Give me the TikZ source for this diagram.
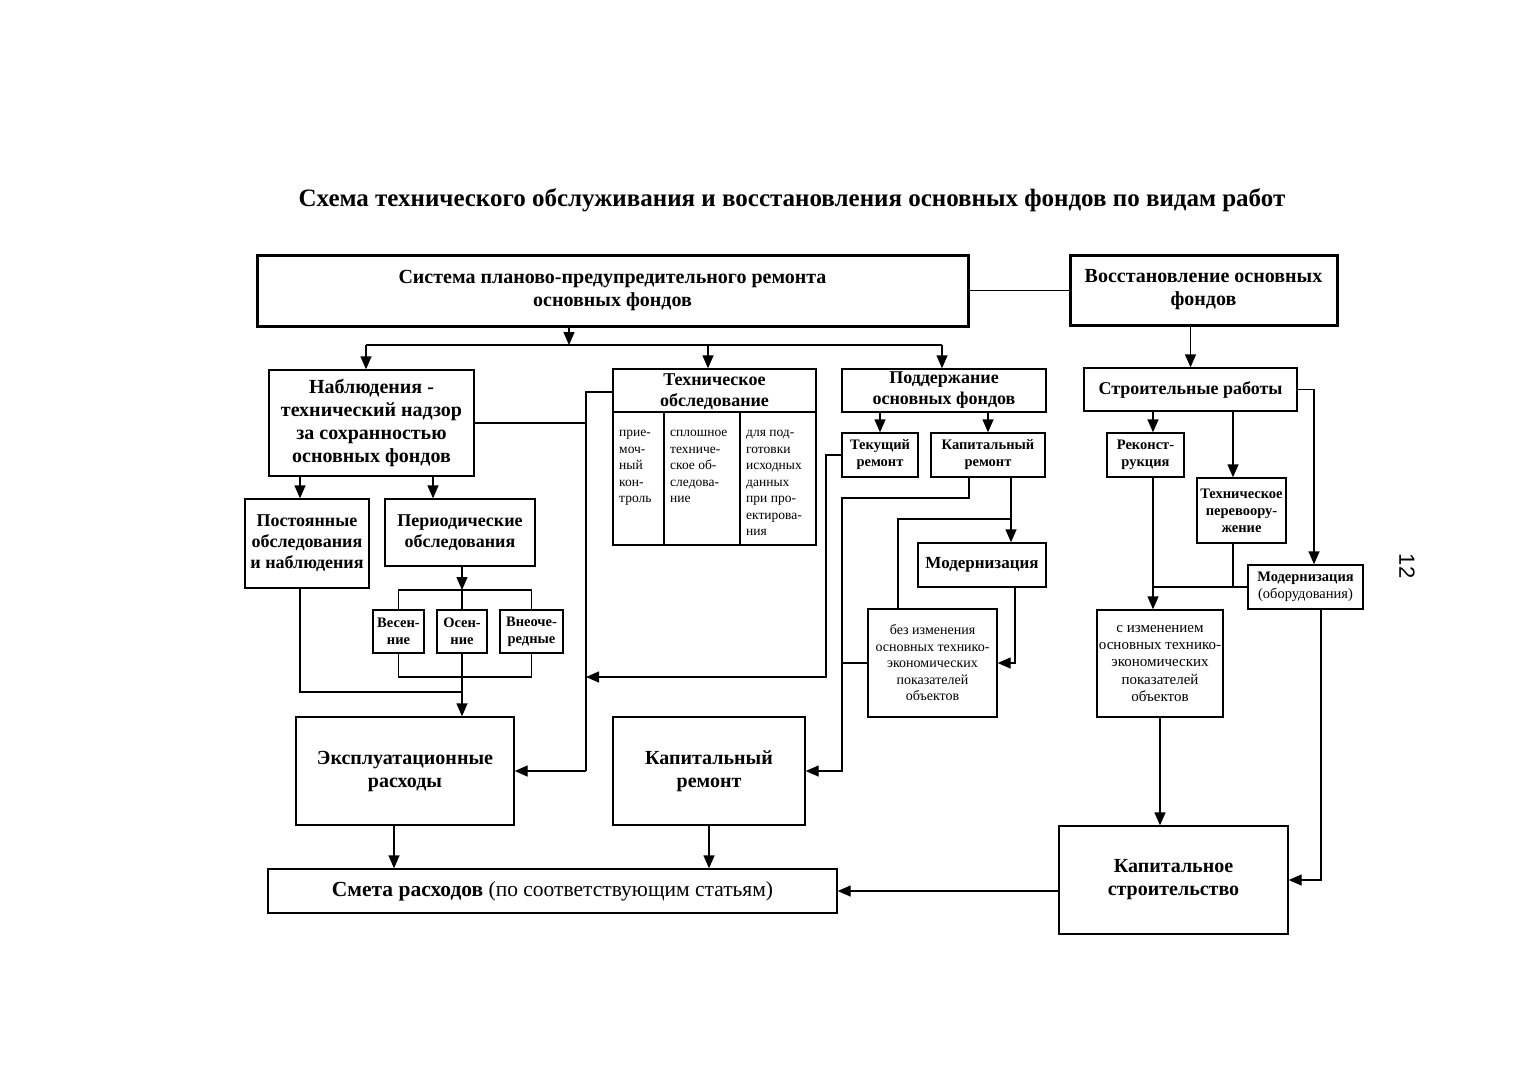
\documentclass[tikz,border=0pt]{standalone}
\usepackage{fontspec}
\setmainfont{Liberation Serif}
\newfontfamily\pnfont{Liberation Sans}
\usetikzlibrary{arrows.meta}
\newcommand\mybox[7]{\node[#2, minimum width={#5-#3}, minimum height={#6-#4}] (#1) at ({(#3+#5)/2},{(#4+#6)/2}) {#7};}
\begin{document}
\begin{tikzpicture}[x=1pt,y=-1pt,
  ln/.style={line width=1.4pt},
  arr/.style={line width=1.4pt,-{Triangle[length=13pt,width=11pt]}},
  bx/.style={draw,line width=1.4pt,inner sep=0pt,align=center},
  bigbx/.style={bx,line width=3pt},
  fbig/.style={font=\fontsize{20}{23}\selectfont\bfseries},
  fmed/.style={font=\fontsize{18}{21}\selectfont\bfseries},
  fsb/.style={font=\fontsize{14.5}{17}\selectfont\bfseries},
  fsr/.style={font=\fontsize{14}{16.5}\selectfont},
  fsl/.style={font=\fontsize{15}{17.2}\selectfont},
  coltxt/.style={font=\fontsize{13.5}{16.5}\selectfont,align=left,anchor=north west,inner sep=0pt},
]
\useasboundingbox[fill=white] (0,0) rectangle (1518,1080);

\node[font=\fontsize{25}{28}\selectfont\bfseries] (title) at (792,200) {Схема технического обслуживания и восстановления основных фондов по видам работ};
\node[font=\pnfont\fontsize{22}{26}\selectfont, rotate=-90] (pn) at (1407,566) {12};

% boxes
\mybox{A}{bigbx,fbig}{257}{255}{968}{326}{Система планово-предупредительного ремонта\\основных фондов}
\mybox{B}{bigbx,fbig}{1070}{255}{1337}{325}{Восстановление основных\\фондов}
\mybox{C}{bx,fbig}{269}{370}{474}{476}{Наблюдения -\\технический надзор\\за сохранностью\\основных фондов}
\mybox{D}{bx}{613}{369}{816}{545}{}
\mybox{E}{bx,fmed}{842}{369}{1046}{412}{Поддержание\\основных фондов}
\mybox{F}{bx,fsb}{842}{433}{918}{477}{Текущий\\ремонт}
\mybox{G}{bx,fsb}{931}{433}{1045}{477}{Капитальный\\ремонт}
\mybox{H}{bx,fmed}{1084}{368}{1297}{411}{Строительные работы}
\mybox{I}{bx,fsb}{1107}{433}{1184}{477}{Реконст-\\рукция}
\mybox{J}{bx,fsb}{1197}{478}{1286}{543}{Техническое\\перевоору-\\жение}
\mybox{K}{bx,fsb}{1248}{565}{1363}{609}{Модернизация\\\mdseries(оборудования)}
\mybox{L}{bx,fsl}{1097}{610}{1223}{717}{с изменением\\основных технико-\\экономических\\показателей\\объектов}
\mybox{M}{bx,fbig}{1059}{826}{1288}{934}{Капитальное\\строительство}
\mybox{N}{bx,font=\fontsize{21.5}{25}\selectfont\bfseries}{268}{869}{837}{913}{Смета расходов \mdseries(по соответствующим статьям)}
\mybox{O}{bx,fmed}{245}{499}{369}{588}{Постоянные\\обследования\\и наблюдения}
\mybox{P}{bx,fmed}{385}{499}{535}{566}{Периодические\\обследования}
\mybox{Q}{bx,fsb}{373}{610}{424}{653}{Весен-\\ние}
\mybox{R}{bx,fsb}{437}{610}{487}{653}{Осен-\\ние}
\mybox{S}{bx,fsb}{500}{610}{563}{653}{Внеоче-\\редные}
\mybox{T}{bx,fbig}{296}{717}{514}{825}{Эксплуатационные\\расходы}
\mybox{U}{bx,fbig}{613}{717}{805}{825}{Капитальный\\ремонт}
\mybox{V}{bx,fsr}{868}{609}{997}{717}{без изменения\\основных технико-\\экономических\\показателей\\объектов}
\mybox{W}{bx,font=\fontsize{17}{20}\selectfont\bfseries}{918}{543}{1046}{587}{Модернизация}

% technical inspection box interior
\node[fmed,align=center] (Dh) at (714.5,392) {Техническое\\обследование};
\coordinate (dv1) at (664,412);
\coordinate (dv2) at (740,412);
\draw[ln] (D.west |- dv1) -- (D.east |- dv1);
\draw[ln] (dv1) -- (dv1 |- D.south);
\draw[ln] (dv2) -- (dv2 |- D.south);
\node[coltxt] (Dc1) at (619,430) {прие-\\моч-\\ный\\кон-\\троль};
\node[coltxt] (Dc2) at (670,430) {сплошное\\техниче-\\ское об-\\следова-\\ние};
\node[coltxt] (Dc3) at (746,430) {для под-\\готовки\\исходных\\данных\\при про-\\ектирова-\\ния};

% top connectors
\draw[ln] (A.east) -- (A.east -| B.west);
\coordinate (jA) at (569,345);
\coordinate (b1) at (366,345);
\coordinate (b2) at (708,345);
\coordinate (b3) at (942,345);
\draw[arr] (A.south -| jA) -- (jA);
\draw[ln] (b1) -- (b3);
\draw[arr] (b1) -- (b1 |- C.north);
\draw[arr] (b2) -- (b2 |- D.north);
\draw[arr] (b3) -- (b3 |- E.north);

% left branch
\coordinate (cO) at (300,0);
\coordinate (cP) at (433,0);
\draw[arr] (C.south -| cO) -- (O.north -| cO);
\draw[arr] (C.south -| cP) -- (P.north -| cP);
\coordinate (brT) at (462,590);
\draw[arr] (P.south -| brT) -- (brT);
\draw[ln] (Q.north) -- (Q.north |- brT) -- (S.north |- brT) -- (S.north);
\draw[ln] (R.north) -- (R.north |- brT);
\coordinate (brB) at (462,677);
\draw[ln] (Q.south) -- (Q.south |- brB) -- (S.south |- brB) -- (S.south);
\draw[ln] (R.south) -- (brB);
\coordinate (jO) at (462,692);
\draw[ln] (O.south -| cO) -- (cO |- jO) -- (jO);
\draw[arr] (brB) -- (T.north -| brB);

% line at x=586
\coordinate (vt) at (586,392);
\draw[ln] (C.east) -- (C.east -| vt);
\draw[ln] (D.west |- vt) -- (vt) -- (vt |- T.east);
\draw[arr] (vt |- T.east) -- (T.east);
\coordinate (fx) at (826,677);
\draw[arr] (F.west) -| (fx) -- (fx -| vt);

% maintenance branch
\draw[arr] (E.south -| F.north) -- (F.north);
\draw[arr] (E.south -| G.north) -- (G.north);
\coordinate (g1) at (969,498);
\coordinate (kx) at (842,498);
\draw[arr] (G.south -| g1) -- (g1) -- (kx) -- (kx |- U.east) -- (U.east);
\draw[ln] (V.west) -- (V.west -| kx);
\coordinate (g2) at (1011,519);
\coordinate (g3) at (898,519);
\draw[arr] (G.south -| g2) -- (W.north -| g2);
\draw[ln] (g2) -- (g3) -- (g3 |- V.north);
\coordinate (w1) at (1015,0);
\draw[arr] (W.south -| w1) |- (V.east);

% bottom
\coordinate (tx) at (394,0);
\draw[arr] (T.south -| tx) -- (N.north -| tx);
\draw[arr] (U.south) -- (U.south |- N.north);
\draw[arr] (N.east -| M.west) -- (N.east);

% right branch
\draw[arr] (B.south -| H.north) -- (H.north);
\coordinate (ix) at (1153,0);
\coordinate (jx) at (1233,0);
\coordinate (kx2) at (1314,0);
\coordinate (kx3) at (1321,0);
\draw[arr] (H.south -| ix) -- (I.north -| ix);
\draw[arr] (H.south -| jx) -- (J.north -| jx);
\draw[arr] (H.east) -| (K.north -| kx2);
\draw[arr] (I.south -| ix) -- (L.north -| ix);
\draw[ln] (ix |- K.west) -- (K.west);
\draw[ln] (J.south -| jx) -- (jx |- K.west);
\draw[arr] (L.south) -- (L.south |- M.north);
\draw[arr] (K.south -| kx3) |- (M.east);
\end{tikzpicture}
\end{document}
